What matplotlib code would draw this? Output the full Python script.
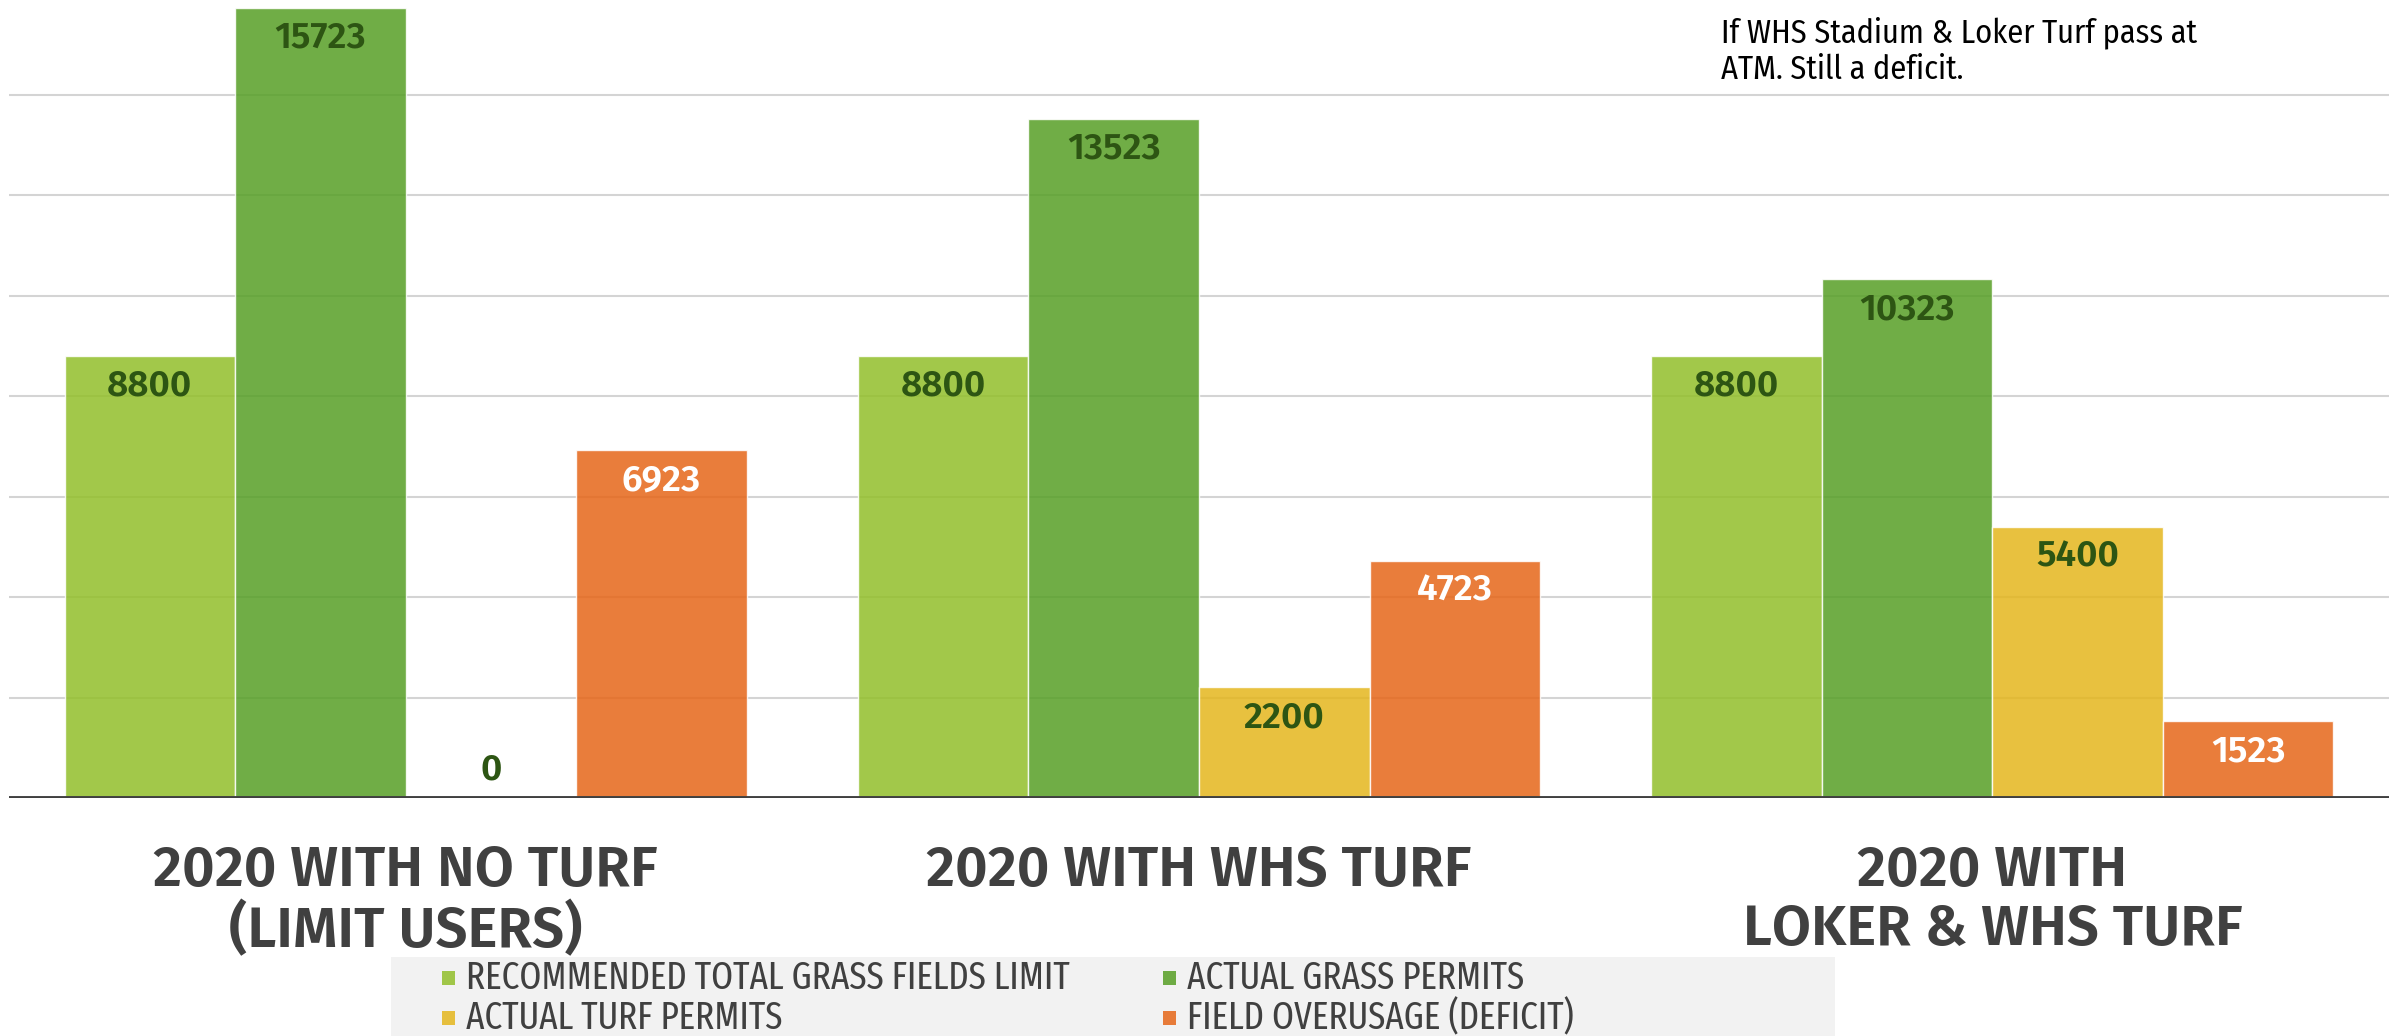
import matplotlib
matplotlib.use("Agg")
import matplotlib.pyplot as plt
from matplotlib.patches import Rectangle
import numpy as np

categories = ["2020 WITH NO TURF\n(LIMIT USERS)", "2020 WITH WHS TURF", "2020 WITH\nLOKER & WHS TURF"]
series_names = ["RECOMMENDED TOTAL GRASS FIELDS LIMIT", "ACTUAL GRASS PERMITS",
                "ACTUAL TURF PERMITS", "FIELD OVERUSAGE (DEFICIT)"]
recommended = [8800, 8800, 8800]
grass_permits = [15723, 13523, 10323]
turf_permits = [0, 2200, 5400]
overusage = [6923, 4723, 1523]
gridlines = [2000, 4000, 6000, 8000, 10000, 12000, 14000]
annotation = "If WHS Stadium & Loker Turf pass at\nATM. Still a deficit."

colors = ["#92BF2A", "#579F26", "#E4B61D", "#E66618"]
label_colors = ["#2D5513", "#2D5513", "#2D5513", "#FFFFFF"]

F_CAT = "Fira Sans"
F_VAL = "Fira Sans"
F_LEG = "Fira Sans Extra Condensed"
F_ANN = "Fira Sans Condensed"

W, H = 2397, 1036
fig = plt.figure(figsize=(W / 100, H / 100), dpi=100)
renderer = fig.canvas.get_renderer()


def fit_size(text, family, weight, target_px, guess=20):
    t = fig.text(0, 0, text, fontsize=guess, family=[family, "DejaVu Sans"], fontweight=weight)
    w = t.get_window_extent(renderer).width
    t.remove()
    return guess * target_px / w


ax = fig.add_axes([9 / W, 238 / H, (2389 - 9) / W, (1036 - 238) / H])
ymax = 15884
ax.set_ylim(0, ymax)
ax.set_xlim(-0.5, 2.5)

for g in gridlines:
    ax.axhline(g, color="#D4D4D4", lw=1.5, zorder=0)

series = [recommended, grass_permits, turf_permits, overusage]
bw = 0.86 / 4
x = np.arange(len(categories))
px_per_unit = (1036 - 238) / ymax
off = 30 / px_per_unit
val_size = fit_size("15723", F_VAL, 600, 92)
for i, (vals, c) in enumerate(zip(series, colors)):
    xs = x + (i - 1.5) * bw
    ax.bar(xs, vals, width=bw, color=c, alpha=0.85, edgecolor="#FFFFFF", linewidth=1.0, zorder=2,
           label=series_names[i])
    for xi, v in zip(xs, vals):
        y = v - off if v > 0 else 28 / px_per_unit
        ax.text(xi, y, f"{v}", ha="center", va="center", fontsize=val_size, fontweight=600,
                family=[F_VAL, "DejaVu Sans"], color=label_colors[i], zorder=3)

ax.axhline(0, color="#404040", lw=2.8, zorder=4)
for s in ax.spines.values():
    s.set_visible(False)
ax.set_xticks([])
ax.set_yticks([])

cat_size = fit_size("2020 WITH NO TURF", F_CAT, 600, 503)
trans = ax.get_xaxis_transform()
for xi, lab in zip(x, categories):
    ax.text(xi, -46 / (1036 - 238), lab, transform=trans, ha="center", va="top",
            fontsize=cat_size, fontweight=600, family=[F_CAT, "DejaVu Sans"], color="#404040",
            linespacing=1.08)

ann_size = fit_size("If WHS Stadium & Loker Turf pass at", F_ANN, "normal", 477)
fig.text(1721 / W, 1 - 16 / H, annotation, ha="left", va="top", fontsize=ann_size,
         family=[F_ANN, "DejaVu Sans"], color="#000000", linespacing=1.2)

# legend box
fig.patches.append(Rectangle((391 / W, 0), (1835 - 391) / W, (1036 - 957) / H,
                             transform=fig.transFigure, facecolor="#F2F2F2", edgecolor="none", zorder=0))
leg_size = fit_size(series_names[0], F_LEG, "normal", 604)
pos = [(442, 978), (1163, 978), (442, 1018), (1163, 1018)]
for (px, py), name, c in zip(pos, series_names, colors):
    fig.patches.append(Rectangle((px / W, 1 - (py + 7) / H), 13 / W, 14 / H, alpha=0.85,
                                 transform=fig.transFigure, facecolor=c, edgecolor="none"))
    fig.text((px + 24) / W, 1 - py / H, name, ha="left", va="center", fontsize=leg_size,
             family=[F_LEG, "DejaVu Sans"], color="#404040")

fig.savefig("out.png", dpi=100)
